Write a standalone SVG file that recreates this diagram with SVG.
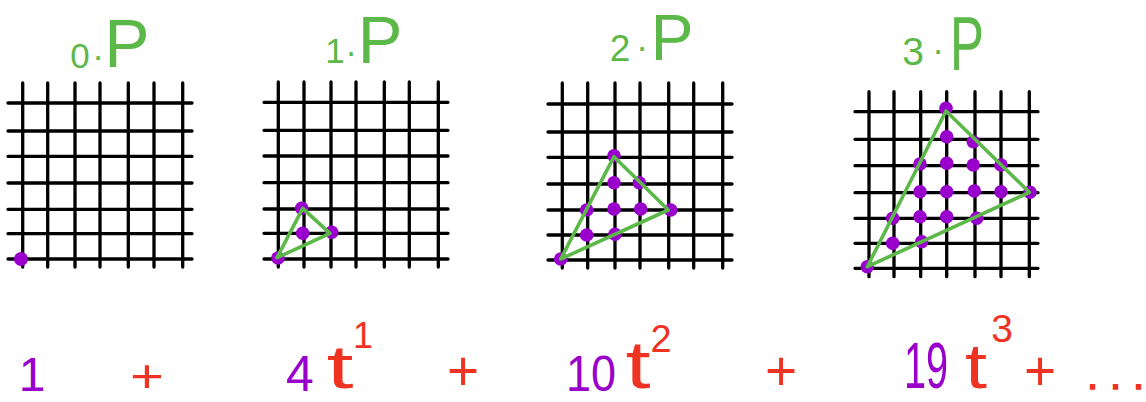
<svg xmlns="http://www.w3.org/2000/svg" width="1146" height="402" viewBox="0 0 1146 402">
<style>
.grid{stroke:#000;stroke-width:3.3;fill:none;stroke-linecap:round}
.tri{stroke:#5cb848;stroke-width:3.6;fill:none;stroke-linejoin:round}
.dot{fill:#9900cc}
text{font-family:"Liberation Sans",Arial,sans-serif;text-anchor:middle}
.g{fill:#5cb848}
.p{fill:#9900cc}
.r{fill:#ee3322}
</style>
<rect width="1146" height="402" fill="#fff"/>

<g id="panel0">
  <text class="g"><tspan x="80" y="68" font-size="35">0</tspan><tspan x="98" y="68" font-size="35">·</tspan><tspan x="127" y="67" font-size="68">P</tspan></text>
  <path class="grid" d="M22.7 83V267M47.7 83V267M75 83V267M100 83V267M128.3 83V267M154 83V267M182.7 83V267M8 103H192M8 131H192M8 156.3H192M8 183H192M8 209.3H192M8 233.7H192M8 259H192"/>
  <circle class="dot" cx="21" cy="259" r="7"/>
  <text class="p" x="32" y="391" font-size="48">1</text>
  <text class="r" transform="translate(147 391.7) scale(1.26 1)" font-size="46">+</text>
</g>

<g id="panel1">
  <text class="g"><tspan x="335" y="63" font-size="35">1</tspan><tspan x="351" y="64" font-size="35">·</tspan><tspan x="380" y="63" font-size="67">P</tspan></text>
  <path class="grid" d="M278.3 82V267M304 82V267M331 82V267M356 82V267M384.3 82V267M409.3 82V267M438.3 82V267M264 102.3H448M264 130.3H448M264 156H448M264 182.7H448M264 209H448M264 233.3H448M264 259H448"/>
  <g class="dot">
    <circle cx="278" cy="258" r="6.8"/>
    <circle cx="302.7" cy="233.3" r="6.8"/>
    <circle cx="301.7" cy="208.3" r="6.8"/>
    <circle cx="331.7" cy="232.3" r="6.8"/>
  </g>
  <path class="tri" d="M277 257.7L302.7 208.3L330 233.3Z"/>
  <text class="p" x="300" y="391" font-size="50">4</text>
  <text class="r" transform="translate(340 388.4) scale(1.57 1)" font-size="62">t</text>
  <text class="r" x="363" y="348" font-size="36">1</text>
  <text class="r" x="463" y="389.8" font-size="55">+</text>
</g>

<g id="panel2">
  <text class="g"><tspan x="620" y="61" font-size="37">2</tspan><tspan x="642" y="59" font-size="35">·</tspan><tspan x="672" y="60" font-size="64">P</tspan></text>
  <path class="grid" d="M562.3 83V268M587.7 83V268M615 83V268M640 83V268M668.7 83V268M693.7 83V268M722.7 83V268M548 104H732M548 132H732M548 157.3H732M548 184H732M548 210H732M548 235H732M548 260H732"/>
  <g class="dot">
    <circle cx="614" cy="155.7" r="6.8"/>
    <circle cx="614" cy="182.7" r="6.8"/>
    <circle cx="639.3" cy="182.7" r="6.8"/>
    <circle cx="586.7" cy="210" r="6.8"/>
    <circle cx="614" cy="209" r="6.8"/>
    <circle cx="640.7" cy="209" r="6.8"/>
    <circle cx="670.7" cy="210" r="6.8"/>
    <circle cx="586.7" cy="235" r="6.8"/>
    <circle cx="615" cy="234.3" r="6.8"/>
    <circle cx="560.7" cy="259" r="6.8"/>
  </g>
  <path class="tri" d="M560.7 259L614 156.7L668.3 210Z"/>
  <text class="p" transform="translate(591 391) scale(0.9 1)" font-size="50">10</text>
  <text class="r" transform="translate(638 387.5) scale(1.37 1)" font-size="66">t</text>
  <text class="r" x="661" y="352" font-size="38">2</text>
  <text class="r" x="781" y="389.8" font-size="55">+</text>
</g>

<g id="panel3">
  <text class="g"><tspan x="913" y="65" font-size="39">3</tspan><tspan x="938" y="62" font-size="35">·</tspan></text>
  <text class="g" transform="translate(967 70) scale(0.67 1)" font-size="76">P</text>
  <path class="grid" d="M869 91.7V276.7M894 91.7V276.7M920.7 91.7V276.7M946.7 91.7V276.7M975 91.7V276.7M1001 91.7V276.7M1029.3 91.7V276.7M855 111.7H1038M855 139.3H1038M855 165.7H1038M855 192.7H1038M855 218.3H1038M855 243.3H1038M855 268.3H1038"/>
  <g class="dot">
    <circle cx="946" cy="108.3" r="6.8"/>
    <circle cx="946.7" cy="136.7" r="6.8"/>
    <circle cx="973.3" cy="141.7" r="6.8"/>
    <circle cx="920" cy="164" r="6.8"/>
    <circle cx="946.7" cy="163.3" r="6.8"/>
    <circle cx="973.3" cy="165" r="6.8"/>
    <circle cx="1001" cy="165" r="6.8"/>
    <circle cx="920" cy="191.7" r="6.8"/>
    <circle cx="946.7" cy="191.7" r="6.8"/>
    <circle cx="974.3" cy="191" r="6.8"/>
    <circle cx="1001" cy="191.7" r="6.8"/>
    <circle cx="1030" cy="192.3" r="6.8"/>
    <circle cx="892.7" cy="218.3" r="6.8"/>
    <circle cx="920" cy="216.7" r="6.8"/>
    <circle cx="946.7" cy="216.7" r="6.8"/>
    <circle cx="976.7" cy="218.3" r="6.8"/>
    <circle cx="892.7" cy="243.3" r="6.8"/>
    <circle cx="921.7" cy="241.7" r="6.8"/>
    <circle cx="867.3" cy="266.7" r="6.8"/>
  </g>
  <path class="tri" d="M867.3 266.7L946 111L1029.3 192.3Z"/>
  <text class="p" transform="translate(926 388) scale(0.62 1)" font-size="64">19</text>
  <text class="r" transform="translate(976 388.4) scale(1.28 1)" font-size="62">t</text>
  <text class="r" x="1002" y="342" font-size="39">3</text>
  <text class="r" x="1040" y="389.8" font-size="55">+</text>
  <text class="r" x="1087 1110 1133" y="389" font-size="40" stroke="#ee3322" stroke-width="1.5" style="text-anchor:start">...</text>
</g>
</svg>
